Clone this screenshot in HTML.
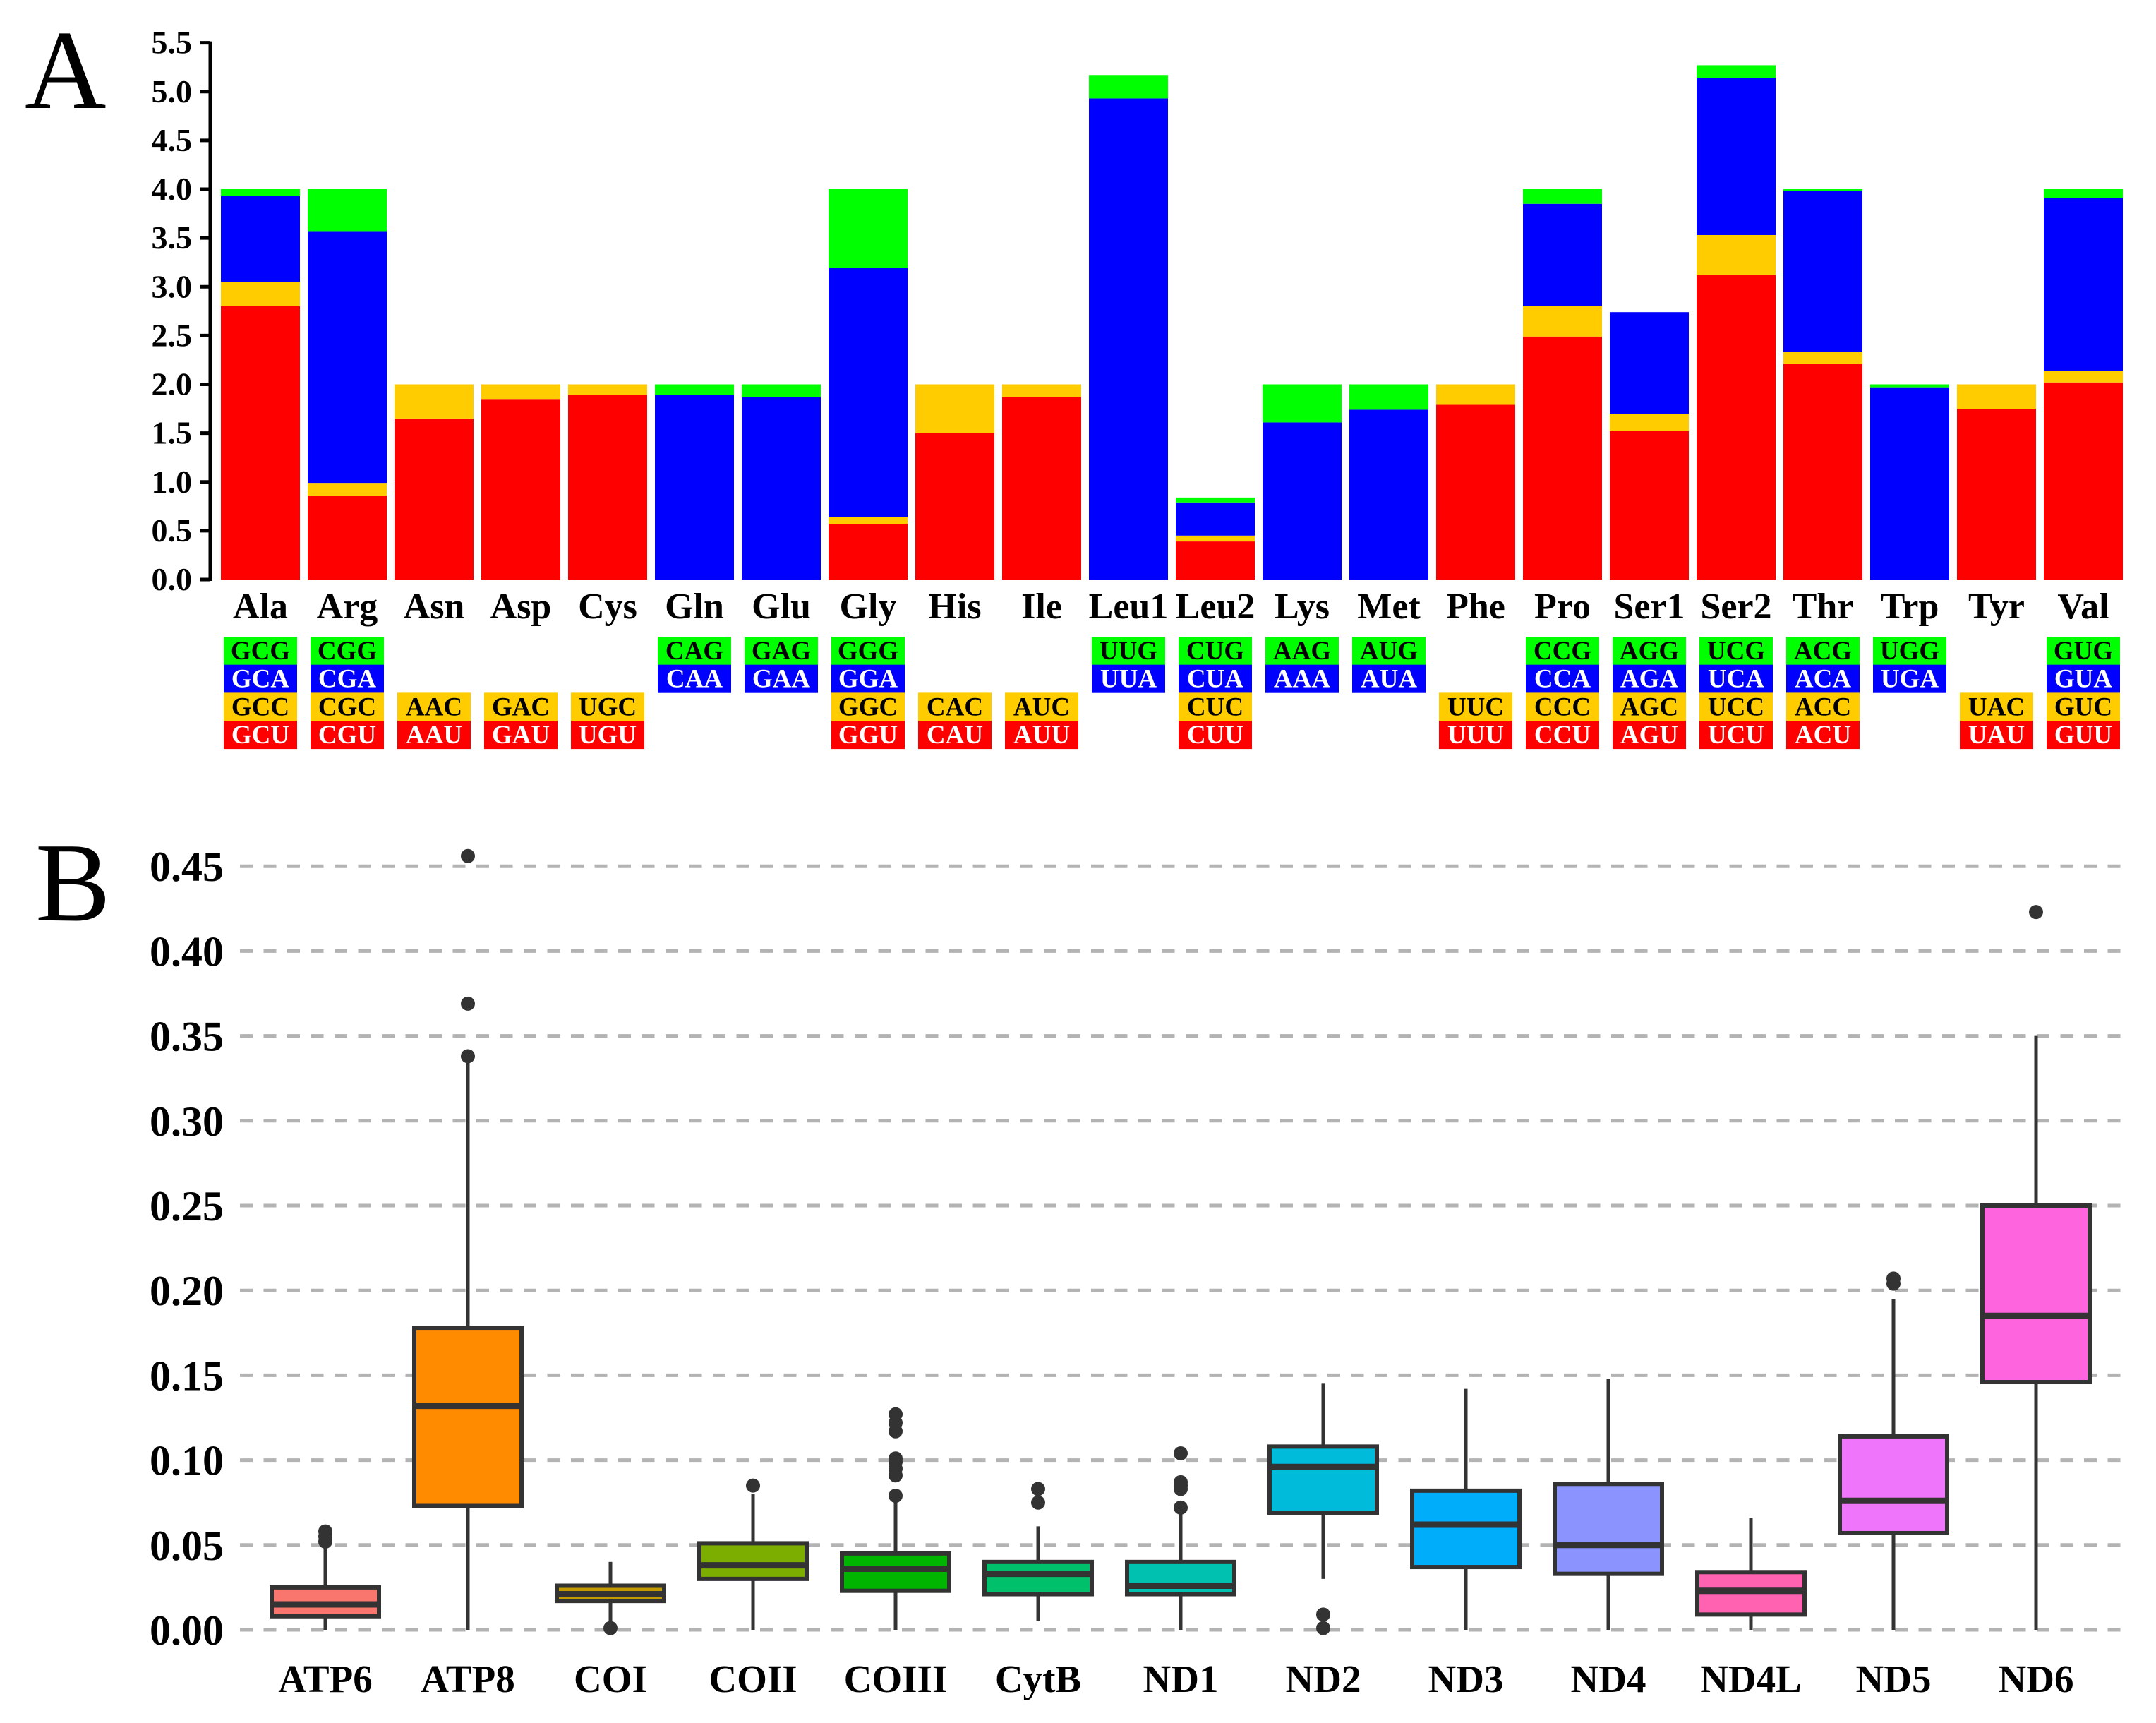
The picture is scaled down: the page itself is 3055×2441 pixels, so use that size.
<!DOCTYPE html>
<html><head><meta charset="utf-8">
<style>
html,body{margin:0;padding:0;background:#fff;}
svg{display:block;font-family:"Liberation Serif",serif;}
</style></head>
<body>
<svg id="fig" width="3055" height="2441" viewBox="0 0 3055 2441" xmlns="http://www.w3.org/2000/svg">
<rect width="3055" height="2441" fill="#fff"/>
<text x="35" y="153" font-size="160">A</text>
<text x="50" y="1304" font-size="160">B</text>
<g id="pa"></g>
<g id="pb"></g>
</svg>
<script>
// ---- Panel A data ----
const aminoAcids = ["Ala","Arg","Asn","Asp","Cys","Gln","Glu","Gly","His","Ile","Leu1","Leu2","Lys","Met","Phe","Pro","Ser1","Ser2","Thr","Trp","Tyr","Val"];
const rscuU = [2.80,0.86,1.65,1.85,1.89,0,0,0.57,1.50,1.87,0,0.39,0,0,1.79,2.49,1.52,3.12,2.21,0,1.75,2.02];
const rscuC = [0.25,0.13,0.35,0.15,0.11,0,0,0.07,0.50,0.13,0,0.06,0,0,0.21,0.31,0.18,0.41,0.12,0,0.25,0.12];
const rscuA = [0.88,2.58,0,0,0,1.89,1.87,2.55,0,0,4.93,0.34,1.61,1.74,0,1.05,1.04,1.61,1.65,1.97,0,1.77];
const rscuG = [0.07,0.43,0,0,0,0.11,0.13,0.81,0,0,0.24,0.05,0.39,0.26,0,0.15,0,0.13,0.02,0.03,0,0.09];
const codonG = ["GCG","CGG","","","","CAG","GAG","GGG","","","UUG","CUG","AAG","AUG","","CCG","AGG","UCG","ACG","UGG","","GUG"];
const codonA = ["GCA","CGA","","","","CAA","GAA","GGA","","","UUA","CUA","AAA","AUA","","CCA","AGA","UCA","ACA","UGA","","GUA"];
const codonC = ["GCC","CGC","AAC","GAC","UGC","","","GGC","CAC","AUC","","CUC","","","UUC","CCC","AGC","UCC","ACC","","UAC","GUC"];
const codonU = ["GCU","CGU","AAU","GAU","UGU","","","GGU","CAU","AUU","","CUU","","","UUU","CCU","AGU","UCU","ACU","","UAU","GUU"];
const aTicks = [0,0.5,1,1.5,2,2.5,3,3.5,4,4.5,5,5.5];

// ---- Panel B data ----
const genes = ["ATP6","ATP8","COI","COII","COIII","CytB","ND1","ND2","ND3","ND4","ND4L","ND5","ND6"];
const whiskerLow = [0,0,0.003,0,0,0.005,0,0.030,0,0,0,0,0];
const q1 = [0.008,0.073,0.017,0.030,0.023,0.021,0.021,0.069,0.037,0.033,0.009,0.057,0.146];
const median = [0.015,0.132,0.021,0.038,0.036,0.033,0.026,0.096,0.062,0.050,0.023,0.076,0.185];
const q3 = [0.025,0.178,0.026,0.051,0.045,0.040,0.040,0.108,0.082,0.086,0.034,0.114,0.250];
const whiskerHigh = [0.050,0.335,0.040,0.080,0.075,0.061,0.068,0.145,0.142,0.148,0.066,0.195,0.350];
const outliers = [[0.052,0.055,0.058],[0.338,0.369,0.456],[0.001],[0.085],[0.079,0.091,0.095,0.099,0.101,0.117,0.122,0.127],[0.075,0.083],[0.072,0.083,0.085,0.087,0.104],[0.009,0.001],[],[],[],[0.204,0.207],[0.423]];
const bTicks = ["0.00","0.05","0.10","0.15","0.20","0.25","0.30","0.35","0.40","0.45"];

const NS="http://www.w3.org/2000/svg";
function mk(tag,attrs,parent,txt){const e=document.createElementNS(NS,tag);for(const k in attrs)e.setAttribute(k,attrs[k]);if(txt!==undefined)e.textContent=txt;parent.appendChild(e);return e;}

// Panel A
const pa=document.getElementById('pa');
const ay=v=>821-v*138.25;
const ax=i=>313+i*123;
const BW=112;
const COL={U:"#FF0000",C:"#FFCC00",A:"#0000FF",G:"#00FF00"};
let el=mk('line',{x1:298,y1:ay(5.5)-2,x2:298,y2:ay(0)+2,stroke:"#000","stroke-width":5},pa);


aTicks.forEach(t=>{
  let l=mk('line',{x1:284,y1:ay(t),x2:298,y2:ay(t),stroke:"#000","stroke-width":5},pa);
  
  
  let tx=mk('text',{x:272,y:ay(t)+15,"text-anchor":"end","font-size":46,"font-weight":"bold"},pa,t.toFixed(1));
  
  
});
aminoAcids.forEach((aa,i)=>{
  let base=0;
  [["U",rscuU],["C",rscuC],["A",rscuA],["G",rscuG]].forEach(([k,arr])=>{
    const v=arr[i]; if(v<=0)return;
    let r=mk('rect',{x:ax(i),y:ay(base+v),width:BW,height:ay(base)-ay(base+v),fill:COL[k]},pa);
    
    
    base+=v;
  });
  let lab=mk('text',{x:ax(i)+BW/2,y:876,"text-anchor":"middle","font-size":52,"font-weight":"bold"},pa,aa);
  
  
  [[codonG,COL.G,"#000"],[codonA,COL.A,"#fff"],[codonC,COL.C,"#000"],[codonU,COL.U,"#fff"]].forEach(([arr,bg,fg],r)=>{
    const c=arr[i]; if(!c)return;
    const yy=902+r*39.7;
    let b=mk('rect',{x:ax(i)+4,y:yy,width:104,height:40,fill:bg},pa);
    
    
    let t=mk('text',{x:ax(i)+56,y:yy+32,"text-anchor":"middle","font-size":37,"font-weight":"bold",fill:fg},pa,c);
    
    
  });
});

// Panel B
const pb=document.getElementById('pb');
const by=v=>2309-v/0.05*120.2;
const bx=i=>461+i*202;
const BBW=152;
const boxCols=["#F8766D","#FF8C00","#C49A00","#7CAE00","#00B500","#00C06B","#00C0AF","#00BBDA","#00ADFA","#8B93FF","#FF62B0","#EF75FA","#FF64DF"];
bTicks.forEach(t=>{
  const v=parseFloat(t);
  let g=mk('line',{x1:340,y1:by(v),x2:3007,y2:by(v),stroke:"#b3b3b3","stroke-width":5,"stroke-dasharray":"18 15.5"},pb);
  
  
  let tx=mk('text',{x:317,y:by(v)+21,"text-anchor":"end","font-size":60,"font-weight":"bold"},pb,t);
  
  
});
genes.forEach((g,i)=>{
  const cx=bx(i);
  let w1=mk('line',{x1:cx,y1:by(whiskerLow[i]),x2:cx,y2:by(q1[i]),stroke:"#333","stroke-width":5},pb);
  
  
  let w2=mk('line',{x1:cx,y1:by(q3[i]),x2:cx,y2:by(whiskerHigh[i]),stroke:"#333","stroke-width":5},pb);
  
  
  let b=mk('rect',{x:cx-BBW/2,y:by(q3[i]),width:BBW,height:by(q1[i])-by(q3[i]),fill:boxCols[i],stroke:"#333","stroke-width":6},pb);
  
  
  let m=mk('line',{x1:cx-BBW/2,y1:by(median[i]),x2:cx+BBW/2,y2:by(median[i]),stroke:"#333","stroke-width":9},pb);
  
  
  outliers[i].forEach(v=>{
    let c=mk('circle',{cx:cx,cy:by(v),r:10,fill:"#333"},pb);
    
    
  });
  let lab=mk('text',{x:cx,y:2397,"text-anchor":"middle","font-size":55,"font-weight":"bold"},pb,g);
  
  
});
</script>
</body></html>
